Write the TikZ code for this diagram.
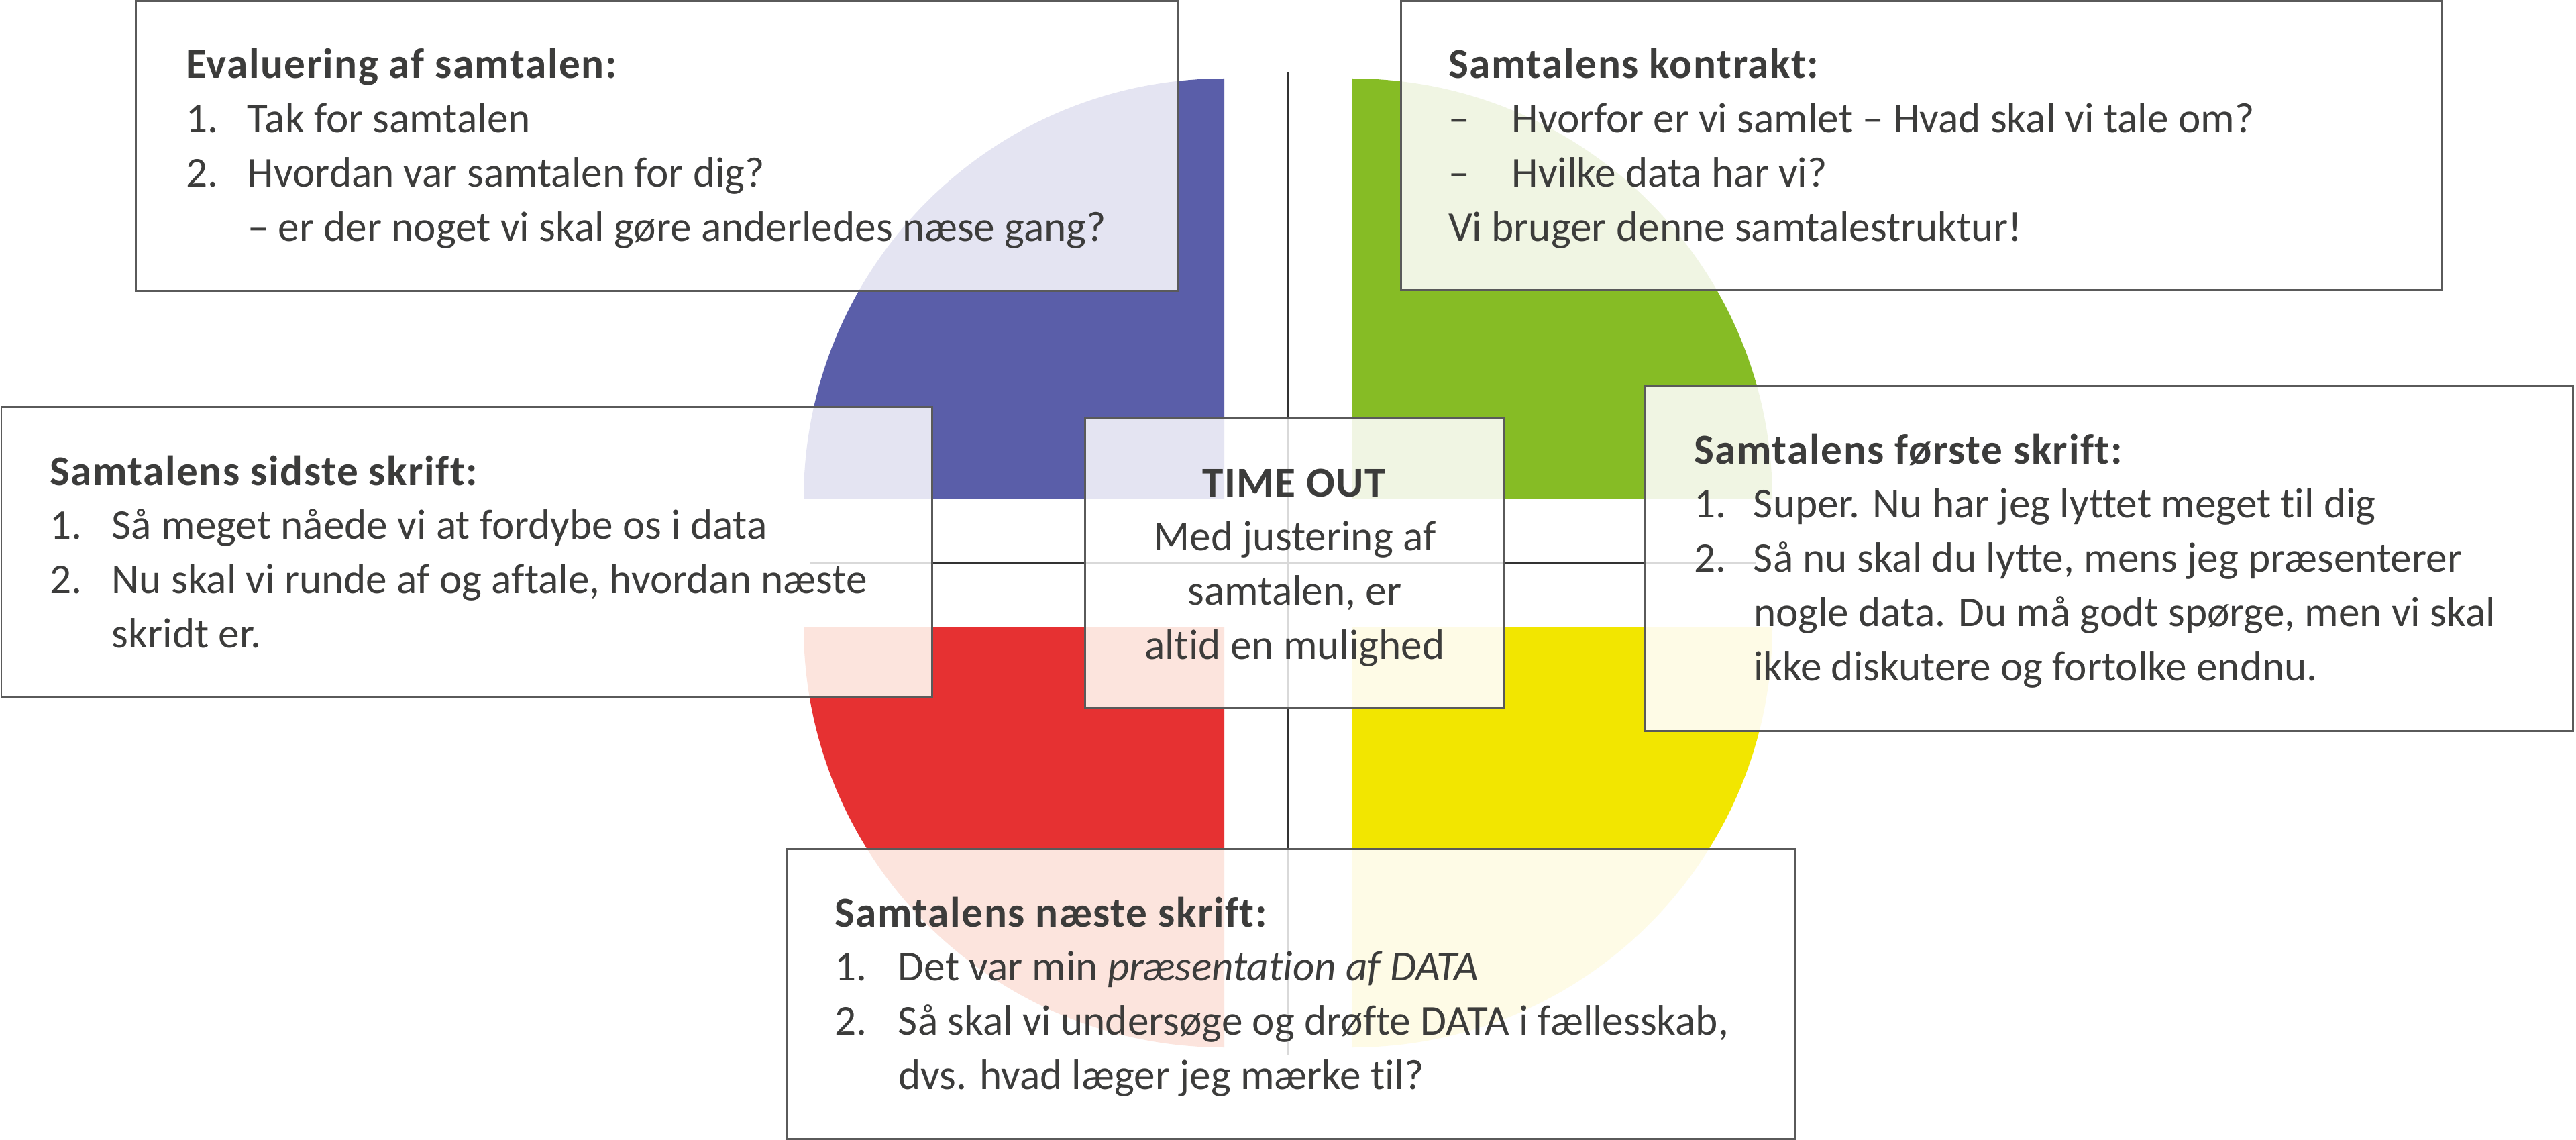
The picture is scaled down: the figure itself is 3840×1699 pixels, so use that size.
\documentclass[tikz,border=0pt]{standalone}
\usepackage{fontspec}
\setmainfont{Carlito}[Ligatures=NoCommon, BoldFeatures={LetterSpace=2.5}]
\usepackage{array}
\definecolor{txt}{HTML}{3C3C3B}
\definecolor{boxline}{HTML}{5A5A5A}
\definecolor{qblue}{HTML}{5A5EA9}
\definecolor{qgreen}{HTML}{86BC25}
\definecolor{qred}{HTML}{E63132}
\definecolor{qyellow}{HTML}{F2E600}
\definecolor{pblue}{HTML}{E4E4F2}
\definecolor{pgreen}{HTML}{F0F5E3}
\definecolor{pred}{HTML}{FCE4DD}
\definecolor{pyellow}{HTML}{FEFBE6}
\definecolor{axis}{HTML}{333333}
\definecolor{paxis}{HTML}{D9D9D9}
\begin{document}
\begin{tikzpicture}[x=0.1mm,y=-0.1mm,
  box/.style={fill=white, inner sep=0pt, outer sep=0pt, anchor=north west},
  border/.style={draw=boxline, line width=0.3mm},
  txtnode/.style={anchor=base west, inner sep=0pt, outer sep=0pt, text=txt,
    font=\fontsize{18}{23.04}\selectfont},
  axisline/.style={draw=axis, line width=0.3mm}]
\useasboundingbox (0,0) rectangle (3840,1699);
\fill[white] (0,0) rectangle (3840,1699);

% quadrants
\begin{scope}
  \clip (1100,50) rectangle (1825,744);
  \fill[qblue] (1825,744) circle[radius=627];
\end{scope}
\begin{scope}
  \clip (2015,50) rectangle (2750,744);
  \fill[qgreen] (2015,744) circle[radius=627];
\end{scope}
\begin{scope}
  \clip (1100,934) rectangle (1825,1650);
  \fill[qred] (1825,934) circle[radius=627];
\end{scope}
\begin{scope}
  \clip (2015,934) rectangle (2750,1650);
  \fill[qyellow] (2015,934) circle[radius=627];
\end{scope}

% axes
\coordinate (hL) at (1207,838);
\coordinate (hR) at (2618,838);
\coordinate (vT) at (1920,108);
\coordinate (vB) at (1920,1573);
\draw[axisline] (hL) -- (hR);
\draw[axisline] (vT) -- (vB);

% boxes (white ground)
\node[box, minimum width=155.5mm, minimum height=43.2mm] (b1) at (202,2) {};
\node[box, minimum width=155.2mm, minimum height=43.1mm] (b2) at (2088,2) {};
\node[box, minimum width=138.8mm, minimum height=43.2mm] (b3) at (2,607) {};
\node[box, minimum width=62.5mm, minimum height=43.2mm] (b0) at (1617,623) {};
\node[box, minimum width=138.4mm, minimum height=51.4mm] (b4) at (2451,576) {};
\node[box, minimum width=150.4mm, minimum height=43.2mm] (b5) at (1172,1265) {};

% pale parts of the circle seen through the boxes
\begin{scope}
  \clip (b1.north west) rectangle (b1.south east)
        (b2.north west) rectangle (b2.south east)
        (b3.north west) rectangle (b3.south east)
        (b0.north west) rectangle (b0.south east)
        (b4.north west) rectangle (b4.south east)
        (b5.north west) rectangle (b5.south east);
  \begin{scope}
    \clip (1100,50) rectangle (1825,744);
    \fill[pblue] (1825,744) circle[radius=627];
  \end{scope}
  \begin{scope}
    \clip (2015,50) rectangle (2750,744);
    \fill[pgreen] (2015,744) circle[radius=627];
  \end{scope}
  \begin{scope}
    \clip (1100,934) rectangle (1825,1650);
    \fill[pred] (1825,934) circle[radius=627];
  \end{scope}
  \begin{scope}
    \clip (2015,934) rectangle (2750,1650);
    \fill[pyellow] (2015,934) circle[radius=627];
  \end{scope}
  \draw[paxis, line width=0.3mm] (hL) -- (hR);
  \draw[paxis, line width=0.3mm] (vT) -- (vB);
\end{scope}

% box borders
\foreach \b in {b1,b2,b3,b0,b4,b5}{
  \draw[border] (\b.north west) rectangle (\b.south east);
}

% texts
\node[txtnode] (t1) at (277,117) {\begin{tabular}[t]{@{}p{9.2mm}@{}l@{}}
\multicolumn{2}{@{}l@{}}{\textbf{Evaluering af samtalen:}}\\
1. & Tak for samtalen\\
2. & Hvordan var samtalen for dig?\\
   & – er der noget vi skal gøre anderledes næse gang?
\end{tabular}};

\node[txtnode] (t2) at (2159,117) {\begin{tabular}[t]{@{}p{9.5mm}@{}l@{}}
\multicolumn{2}{@{}l@{}}{\textbf{Samtalens kontrakt:}}\\
– & Hvorfor er vi samlet – Hvad skal vi tale om?\\
– & Hvilke data har vi?\\
\multicolumn{2}{@{}l@{}}{Vi bruger denne samtalestruktur!}
\end{tabular}};

\node[txtnode] (t3) at (74,723) {\begin{tabular}[t]{@{}p{9.3mm}@{}l@{}}
\multicolumn{2}{@{}l@{}}{\textbf{Samtalens sidste skrift:}}\\
1. & Så meget nåede vi at fordybe os i data\\
2. & Nu skal vi runde af og aftale, hvordan næste\\
   & skridt er.
\end{tabular}};

\node[txtnode, anchor=base] (t0) at (1930,740) {\begin{tabular}[t]{@{}c@{}}
\textbf{TIME OUT}\\
Med justering af\\
samtalen, er\\
altid en mulighed
\end{tabular}};

\node[txtnode] (t4) at (2525,691) {\begin{tabular}[t]{@{}p{8.9mm}@{}l@{}}
\multicolumn{2}{@{}l@{}}{\textbf{Samtalens første skrift:}}\\
1. & Super. Nu har jeg lyttet meget til dig\\
2. & Så nu skal du lytte, mens jeg præsenterer\\
   & nogle data. Du må godt spørge, men vi skal\\
   & ikke diskutere og fortolke endnu.
\end{tabular}};

\node[txtnode] (t5) at (1244,1381) {\begin{tabular}[t]{@{}p{9.5mm}@{}l@{}}
\multicolumn{2}{@{}l@{}}{\textbf{Samtalens næste skrift:}}\\
1. & Det var min \textit{præsentation af DATA}\\
2. & Så skal vi undersøge og drøfte DATA i fællesskab,\\
   & dvs. hvad læger jeg mærke til?
\end{tabular}};
\end{tikzpicture}
\end{document}
